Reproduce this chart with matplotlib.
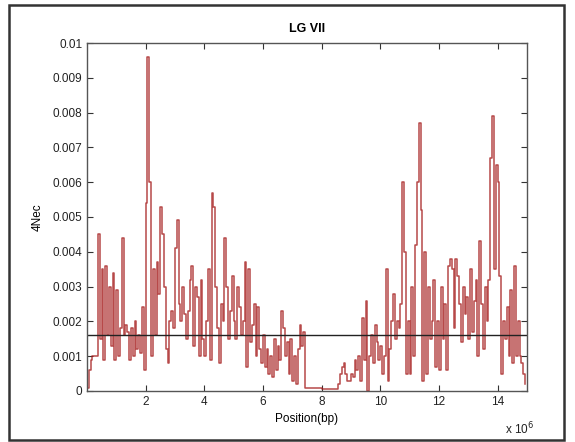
import numpy as np
import matplotlib
matplotlib.use("Agg")
from matplotlib import pyplot as plt
from matplotlib.patches import Rectangle

plt.rcParams['font.family'] = ['Liberation Sans', 'DejaVu Sans']

# 4Nec estimates (units of 0.001), one window every 1/16 Mb
step_mb = 1.0 / 16
nec_mb0 = [0.1, 0.6, 0.9, 1.0, 1.0, 1.0, 4.5, 1.5, 3.5, 0.9, 3.6, 1.6, 3.0, 1.3, 3.4, 0.9]
nec_mb1 = [2.9, 1.0, 1.8, 4.4, 1.6, 1.9, 1.7, 0.9, 1.8, 1.0, 2.0, 1.2, 1.6, 1.1, 2.4, 0.6]
nec_mb2 = [5.4, 9.6, 6.0, 1.0, 3.5, 1.6, 3.7, 2.8, 5.3, 4.5, 3.0, 1.2, 0.8, 2.0, 2.3, 1.8]
nec_mb3 = [4.1, 4.9, 2.5, 2.0, 3.0, 2.2, 1.5, 2.3, 3.2, 3.6, 1.3, 3.0, 2.7, 1.0, 3.2, 1.5]
nec_mb4 = [1.0, 2.0, 3.5, 0.9, 5.7, 5.3, 3.0, 1.8, 0.8, 2.5, 2.0, 4.4, 3.0, 1.5, 2.3, 3.3]
nec_mb5 = [2.0, 1.5, 3.0, 2.4, 1.6, 2.0, 3.7, 0.7, 3.5, 1.4, 1.9, 2.5, 1.0, 2.4, 1.2, 0.8]
nec_mb6 = [1.6, 0.7, 1.2, 0.5, 1.0, 0.4, 1.5, 0.6, 1.3, 0.9, 2.3, 1.8, 1.0, 1.4, 0.5, 1.5]
nec_mb7 = [0.3, 1.0, 0.2, 1.2, 1.9, 1.3, 1.7, 0.1, 0.1, 0.1, 0.1, 0.1, 0.1, 0.1, 0.1, 0.1]
nec_mb8 = [0.05, 0.05, 0.05, 0.05, 0.05, 0.05, 0.05, 0.05, 0.05, 0.2, 0.5, 0.7, 0.8, 0.5, 0.3, 0.3]
nec_mb9 = [0.5, 0.4, 0.9, 0.6, 1.0, 0.3, 2.1, 0.9, 2.6, 0.0, 1.0, 1.6, 0.8, 1.9, 1.4, 0.9]
nec_mb10 = [1.3, 0.5, 1.0, 3.5, 0.3, 1.2, 2.0, 2.8, 1.5, 2.0, 1.8, 2.5, 6.0, 4.0, 0.5, 2.0]
nec_mb11 = [0.5, 3.0, 1.0, 4.2, 6.0, 7.7, 5.2, 0.3, 4.0, 0.5, 3.0, 1.5, 2.0, 3.2, 0.7, 2.0]
nec_mb12 = [0.6, 3.0, 1.5, 2.5, 0.6, 3.6, 3.8, 3.5, 1.8, 3.8, 3.3, 2.5, 1.4, 3.0, 2.2, 2.7]
nec_mb13 = [1.5, 3.5, 1.7, 2.6, 3.2, 1.0, 4.3, 2.5, 1.2, 3.0, 2.0, 3.2, 6.7, 7.9, 3.5, 6.5]
nec_mb14 = [6.0, 3.3, 0.5, 2.0, 1.5, 2.4, 1.0, 2.9, 0.8, 3.6, 1.0, 2.0, 1.0, 0.8, 0.5, 0.2]

mean_nec = 0.0016
xticks_mb = [2, 4, 6, 8, 10, 12, 14]
yticks = [0, 0.001, 0.002, 0.003, 0.004, 0.005, 0.006, 0.007, 0.008, 0.009, 0.01]
ytick_labels = ['0', '0.001', '0.002', '0.003', '0.004', '0.005', '0.006',
                '0.007', '0.008', '0.009', '0.01']

nec = np.array(nec_mb0 + nec_mb1 + nec_mb2 + nec_mb3 + nec_mb4 + nec_mb5 + nec_mb6
               + nec_mb7 + nec_mb8 + nec_mb9 + nec_mb10 + nec_mb11 + nec_mb12
               + nec_mb13 + nec_mb14) * 1e-3
pos = np.arange(len(nec)) * step_mb * 1e6

fig = plt.figure(figsize=(5.75, 4.42), dpi=100)
ax = fig.add_axes([0.1513, 0.1154, 0.7652, 0.7873])

ax.plot(pos, nec, color='#a51c1c', lw=1.1, alpha=0.8, drawstyle='steps-post')
ax.axhline(mean_nec, color='#222222', lw=1.0)

ax.set_xlim(0, 15e6)
ax.set_ylim(0, 0.01)
ax.set_xticks([v * 1e6 for v in xticks_mb])
ax.set_xticklabels([str(v) for v in xticks_mb])
ax.set_yticks(yticks)
ax.set_yticklabels(ytick_labels)
ax.tick_params(direction='in', top=True, right=True, labelsize=8.5,
               length=4, width=0.8, colors='#333333', labelcolor='#222222')
for s in ['top', 'bottom', 'left', 'right']:
    ax.spines[s].set_color('#555555')
    ax.spines[s].set_linewidth(1.0)

ax.set_title('LG VII', fontsize=9, fontweight='bold', pad=8)
ax.set_xlabel('Position(bp)', fontsize=8.5, labelpad=4)
ax.set_ylabel('4Nec', fontsize=8.5, labelpad=6)
fig.text(0.878, 0.017, r'x 10$^6$', fontsize=8.5, color='#222222')

# screenshot frame
fig.patches.append(Rectangle((9 / 575, 2 / 442), 555 / 575, 435 / 442,
                             transform=fig.transFigure, fill=False,
                             edgecolor='#333333', lw=1.8))

fig.savefig('out.png', dpi=100)
